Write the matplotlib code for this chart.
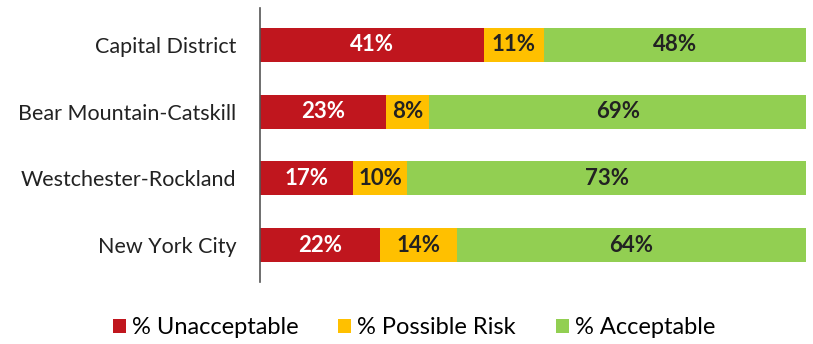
import matplotlib
matplotlib.use("Agg")
import matplotlib.pyplot as plt
import numpy as np

categories = ["Capital District", "Bear Mountain-Catskill", "Westchester-Rockland", "New York City"]
unacceptable = [41, 23, 17, 22]
possible_risk = [11, 8, 10, 14]
acceptable = [48, 69, 73, 64]
series_names = ["% Unacceptable", "% Possible Risk", "% Acceptable"]
colors = ["#C0161E", "#FFC000", "#92CF52"]
text_colors = ["white", "#222222", "#222222"]

plt.rcParams['font.family'] = ['Lato', 'DejaVu Sans']

fig = plt.figure(figsize=(8.13, 3.44), dpi=100)
ax = fig.add_axes([260/813, 1-282/344, 546/813, 274/344])

y = np.arange(len(categories))
left = np.zeros(len(categories))
handles = []
for vals, name, c, tc in zip([unacceptable, possible_risk, acceptable], series_names, colors, text_colors):
    bars = ax.barh(y, vals, left=left, height=0.51, color=c, label=name)
    handles.append(bars)
    for yi, l, v in zip(y, left, vals):
        ax.text(l + v/2, yi, f"{v}%", ha="center", va="center", color=tc,
                fontsize=16, fontweight="bold")
    left = left + np.array(vals)

ax.set_xlim(0, 100)
ax.set_ylim(3.55, -0.55)
ax.set_yticks(y)
ax.set_yticklabels(categories, fontsize=15.5, color="#222222")
ax.tick_params(axis="y", length=0, pad=17)
ax.set_xticks([])
for s in ["top", "right", "bottom"]:
    ax.spines[s].set_visible(False)
ax.spines["left"].set_color("#555555")
ax.spines["left"].set_linewidth(1.2)

fig.legend(handles=handles, labels=series_names, loc="center", bbox_to_anchor=(414/813, 1-328/344),
           ncol=3, frameon=False, fontsize=17, handlelength=0.55, handleheight=0.55,
           columnspacing=1.7, handletextpad=0.25)

fig.savefig("out.png", dpi=100, facecolor="white")
